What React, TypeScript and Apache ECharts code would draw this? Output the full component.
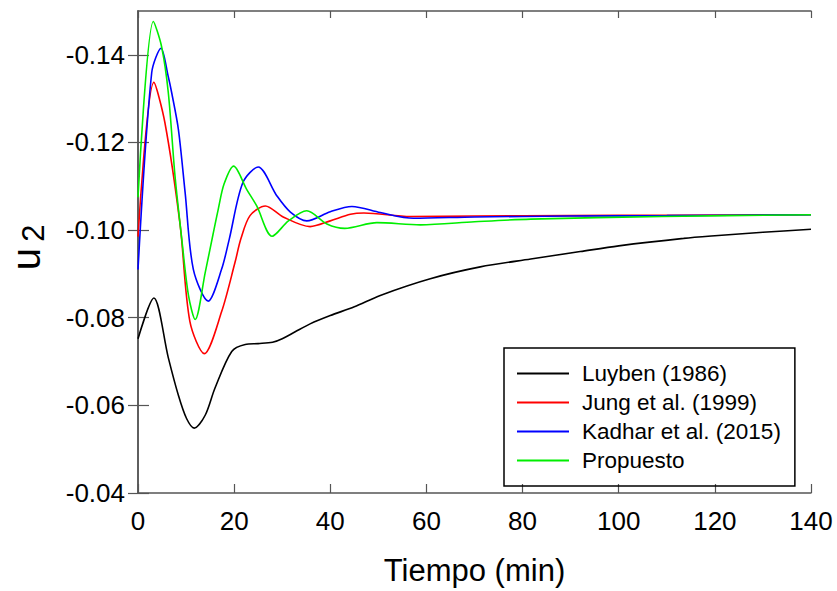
import React, { useEffect, useRef } from "react";
import * as echarts from "echarts";

const seriesNames = ["Luyben (1986)", "Jung et al. (1999)", "Kadhar et al. (2015)", "Propuesto"];
const seriesColors = ["#000000", "#ff0000", "#0000ff", "#00ee00"];

const luyben: number[][] = [
  [0, -0.0752], [3.3, -0.0845], [6.3, -0.0709], [8.4, -0.0623], [10.1, -0.057], [11.7, -0.0548],
  [14, -0.0578], [16, -0.0639], [19.5, -0.0723], [22.3, -0.0739], [25, -0.0741], [28, -0.0744],
  [30, -0.0752], [32.7, -0.0768], [35.8, -0.0786], [40, -0.0805], [45, -0.0825], [50.4, -0.0851],
  [60.8, -0.0889], [71.2, -0.0916], [81.7, -0.0934], [92, -0.0951], [100, -0.0964], [113.5, -0.0981],
  [120, -0.0987], [130, -0.0995], [140, -0.1002],
];

const jung: number[][] = [
  [0, -0.0985], [3.3, -0.1337], [5.6, -0.1245], [8.75, -0.1013], [10.8, -0.0791], [13.8, -0.0718],
  [17.4, -0.0814], [20.2, -0.0927], [21.4, -0.098], [23.3, -0.1033], [26.5, -0.1055], [30.2, -0.103],
  [35.8, -0.1008], [40, -0.1021], [44.2, -0.1036], [47, -0.1039], [56.7, -0.1031], [70, -0.1032],
  [90, -0.1033], [110, -0.1034], [140, -0.1035],
];

const kadhar: number[][] = [
  [0, -0.091], [2.85, -0.1359], [4.8, -0.1415], [6.3, -0.135], [7, -0.1314], [8.4, -0.123],
  [9.8, -0.1086], [11.5, -0.0911], [14.6, -0.0838], [17.4, -0.0911], [19, -0.098], [21.8, -0.1108],
  [25, -0.1144], [28.9, -0.1078], [31.7, -0.1041], [35.1, -0.1021], [40, -0.1042], [44.5, -0.1054],
  [50.4, -0.104], [57.3, -0.1027], [70, -0.103], [90, -0.1032], [110, -0.1033], [140, -0.1035],
];

const propuesto: number[][] = [
  [0, -0.1075], [3.2, -0.1476], [4.9, -0.1419], [6.3, -0.1314], [7.7, -0.1123], [9.1, -0.098],
  [10.5, -0.0851], [11.9, -0.0796], [14, -0.0904], [15.6, -0.099], [16.7, -0.1048], [17.9, -0.1105],
  [19.9, -0.1146], [22.6, -0.1093], [24.7, -0.1055], [27.9, -0.0986], [31.3, -0.1021], [35.1, -0.1044],
  [39.3, -0.1014], [43, -0.1004], [49.7, -0.1017], [58.75, -0.1012], [70, -0.1019], [81.7, -0.1025],
  [109, -0.1031], [140, -0.1035],
];

const yTicks = [-0.14, -0.12, -0.1, -0.08, -0.06, -0.04];
const xTicks = [0, 20, 40, 60, 80, 100, 120, 140];

const FONT = "Arial, 'Liberation Sans', sans-serif";
const AXIS_COLOR = "#555555";

export default function App() {
  const ref = useRef<HTMLDivElement>(null);
  useEffect(() => {
    if (!ref.current) return;
    const chart = echarts.init(ref.current, undefined, { renderer: "svg" });
    const allData = [luyben, jung, kadhar, propuesto];
    const axisLine = { show: true, lineStyle: { color: AXIS_COLOR, width: 1.5 } };
    chart.setOption({
      animation: false,
      backgroundColor: "#ffffff",
      textStyle: { fontFamily: FONT },
      grid: { left: 138, right: 26, top: 11, bottom: 95, containLabel: false },
      xAxis: [
        {
          type: "value", min: 0, max: 140, interval: 20, position: "bottom",
          axisLine,
          axisTick: { show: true, inside: true, length: 9, lineStyle: { color: AXIS_COLOR, width: 1.2 }, customValues: xTicks },
          axisLabel: { show: true, fontSize: 26, color: "#000", margin: 15, fontFamily: FONT, customValues: xTicks },
          splitLine: { show: false },
          name: "Tiempo (min)", nameLocation: "middle", nameGap: 62,
          nameTextStyle: { fontSize: 31, color: "#000", fontFamily: FONT },
        },
        {
          type: "value", min: 0, max: 140, interval: 20, position: "top",
          axisLine,
          axisTick: { show: true, inside: true, length: 7, lineStyle: { color: AXIS_COLOR, width: 1.2 } },
          axisLabel: { show: false },
          splitLine: { show: false },
        },
      ],
      yAxis: [
        {
          type: "value", min: -0.15, max: -0.04, inverse: true, position: "left",
          axisLine,
          axisTick: { show: true, inside: true, length: 11, lineStyle: { color: AXIS_COLOR, width: 1.2 }, customValues: yTicks },
          axisLabel: {
            show: true, fontSize: 26, color: "#000", margin: 13, fontFamily: FONT,
            customValues: yTicks, formatter: (v: number) => v.toFixed(2),
          },
          splitLine: { show: false },
        },
        {
          type: "value", min: -0.15, max: -0.04, inverse: true, position: "right",
          axisLine,
          axisTick: { show: true, inside: true, length: 10, lineStyle: { color: AXIS_COLOR, width: 1.2 }, customValues: yTicks },
          axisLabel: { show: false },
          splitLine: { show: false },
        },
      ],
      legend: {
        orient: "vertical", left: 504, top: 348,
        padding: [14, 14, 14, 13],
        icon: "rect",
        itemWidth: 52, itemHeight: 2, itemGap: 6,
        borderColor: "#000", borderWidth: 1.5,
        textStyle: { fontSize: 22.5, color: "#000", fontFamily: FONT, padding: [0, 0, 0, 8] },
        data: seriesNames,
      },
      graphic: [
        {
          type: "text", x: 26, y: 259, rotation: Math.PI / 2,
          style: { text: "u", fontSize: 40, fill: "#000", fontFamily: FONT, textAlign: "center", textVerticalAlign: "middle" },
        },
        {
          type: "text", x: 33, y: 233, rotation: Math.PI / 2,
          style: { text: "2", fontSize: 31, fill: "#000", fontFamily: FONT, textAlign: "center", textVerticalAlign: "middle" },
        },
      ],
      series: seriesNames.map((name, i) => ({
        name, type: "line", data: allData[i], xAxisIndex: 0, yAxisIndex: 0,
        symbol: "none", smooth: 0.3,
        lineStyle: { color: seriesColors[i], width: 1.6 }, itemStyle: { color: seriesColors[i] },
        z: 2 + i,
      })),
    });
    return () => chart.dispose();
  }, []);
  return <div ref={ref} style={{ position: "absolute", left: 0, top: 0, width: 837, height: 591 }} />;
}
